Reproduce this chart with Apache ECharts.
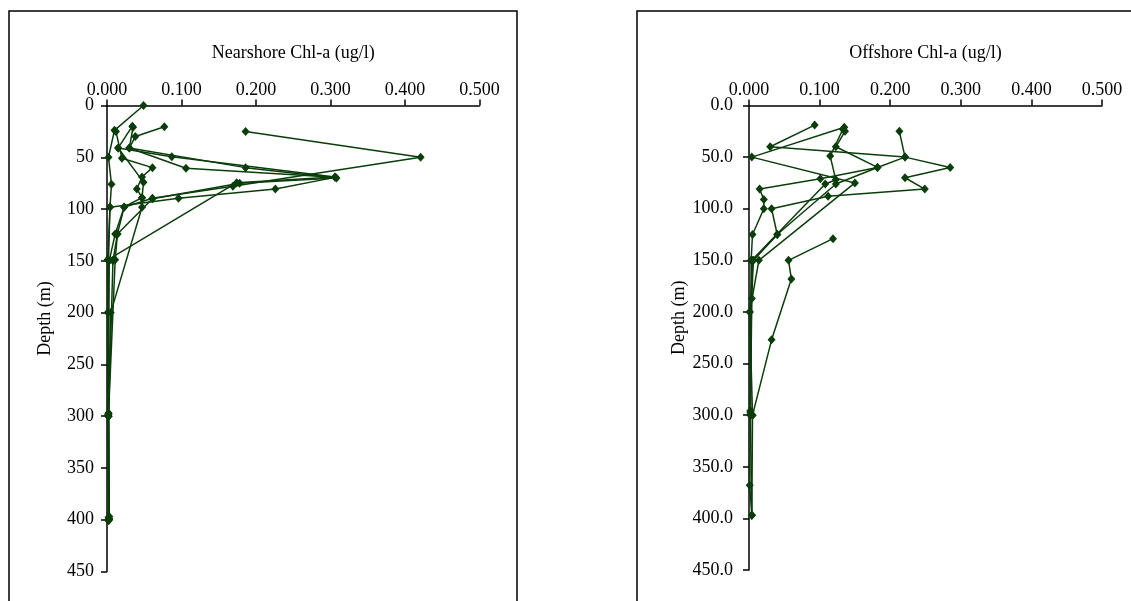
<!DOCTYPE html>
<html>
<head>
<meta charset="utf-8">
<script src="https://cdn.jsdelivr.net/npm/echarts@6/dist/echarts.min.js"></script>
<style>
html,body{margin:0;padding:0;background:#fff;}
#chart{width:1131px;height:601px;}
</style>
</head>
<body>
<div id="chart"></div>
<script>
// Tick labels
var xTickLabels = ['0.000','0.100','0.200','0.300','0.400','0.500'];
var depthTicks = [0,50,100,150,200,250,300,350,400,450];

// Nearshore profiles: [Chl-a (ug/l), depth (m)]
var near1 = [[0.049,0],[0.010,24],[0.002,50],[0.006,76],[0.004,98],[0.001,149],[0.001,200],[0.002,298],[0.002,398]];
var near2 = [[0.034,20],[0.015,41],[0.087,49.5],[0.306,69],[0.174,74.5],[0.001,149],[0.002,300],[0.003,400]];
var near3 = [[0.186,25],[0.421,50],[0.169,78],[0.061,89.6],[0.023,98.3],[0.011,124],[0.003,150],[0.002,297],[0.003,399]];
var near4 = [[0.077,20.5],[0.038,30],[0.030,41],[0.106,60.6],[0.306,69.4],[0.226,80.6],[0.096,89.6],[0.004,98.3],[0.002,150],[0.001,299],[0.002,400]];
var near5 = [[0.012,25],[0.020,51],[0.061,60],[0.047,69],[0.040,80.6],[0.047,89],[0.047,98.3],[0.005,200],[0.002,300],[0.003,397]];
var near6 = [[0.035,21],[0.030,41],[0.186,60],[0.308,70],[0.178,75],[0.061,90],[0.014,124],[0.011,149],[0.002,298],[0.002,401]];
var near7 = [[0.015,41],[0.049,74],[0.047,89],[0.023,98],[0.014,124],[0.008,150],[0.002,300]];

// Offshore profiles: [Chl-a (ug/l), depth (m)]
var off1 = [[0.093,19],[0.030,40],[0.221,50],[0.182,60],[0.123,76],[0.040,125],[0.006,150],[0.004,187],[0.002,296],[0.001,368],[0.004,397]];
var off2 = [[0.135,21],[0.004,50],[0.150,75],[0.014,150],[0.001,200],[0.005,300]];
var off3 = [[0.136,25],[0.123,40],[0.182,60],[0.101,71],[0.015,81],[0.021,91],[0.021,100],[0.005,125],[0.003,150],[0.002,296],[0.004,397]];
var off4 = [[0.213,25],[0.221,50],[0.285,60],[0.221,70],[0.249,81],[0.112,88],[0.032,100],[0.040,125],[0.006,150],[0.001,200],[0.002,300]];
var off5 = [[0.133,23],[0.115,49],[0.123,72],[0.108,76],[0.004,150],[0.002,298]];
var off6 = [[0.119,129],[0.056,150],[0.060,168],[0.032,227],[0.005,300],[0.004,397]];

var nearProfiles = [near1,near2,near3,near4,near5,near6,near7];
var offProfiles = [off1,off2,off3,off4,off5,off6];

var GREEN = '#0b3d0b';
var FONT = 'Liberation Serif';
var FS = 18;

function xAxisDef(idx, name) {
  return {
    gridIndex: idx, type: 'value', position: 'top', min: 0, max: 0.5, interval: 0.1,
    name: name, nameLocation: 'middle', nameGap: 43,
    nameTextStyle: {fontFamily: FONT, fontSize: FS, color: '#000'},
    axisLine: {show: true, onZero: false, lineStyle: {color: '#000', width: 1.5}},
    axisTick: {show: true, inside: false, length: 6, lineStyle: {color: '#000', width: 1.5}},
    axisLabel: {fontFamily: FONT, fontSize: FS, color: '#000', margin: 6,
      formatter: function (v) { return xTickLabels[Math.round(v * 10)]; }},
    splitLine: {show: false}
  };
}
function yAxisDef(idx, decimals, labelMargin, nameGap) {
  return {
    gridIndex: idx, type: 'value', inverse: true, min: 0, max: 450, interval: 50,
    name: 'Depth (m)', nameLocation: 'middle', nameGap: nameGap, nameRotate: 90,
    nameTextStyle: {fontFamily: FONT, fontSize: FS, color: '#000', padding: [0, 0, 0, 40]},
    axisLine: {show: true, onZero: false, lineStyle: {color: '#000', width: 1.5}},
    axisTick: {show: true, inside: false, length: 6, lineStyle: {color: '#000', width: 1.5}},
    axisLabel: {fontFamily: FONT, fontSize: FS, color: '#000', margin: labelMargin,
      formatter: function (v) { return decimals ? v.toFixed(decimals) : String(v); }},
    splitLine: {show: false}
  };
}

var series = [];
nearProfiles.forEach(function (p) {
  series.push({type: 'line', xAxisIndex: 0, yAxisIndex: 0, data: p, symbol: 'diamond', symbolSize: [8, 9],
    lineStyle: {color: GREEN, width: 1.5}, itemStyle: {color: GREEN}, animation: false, silent: true});
});
offProfiles.forEach(function (p) {
  series.push({type: 'line', xAxisIndex: 1, yAxisIndex: 1, data: p, symbol: 'diamond', symbolSize: [8, 9],
    lineStyle: {color: GREEN, width: 1.5}, itemStyle: {color: GREEN}, animation: false, silent: true});
});

var chart = echarts.init(document.getElementById('chart'), null, {renderer: 'canvas'});
chart.setOption({
  backgroundColor: '#fff',
  animation: false,
  grid: [
    {left: 107, top: 105.5, width: 372.5, height: 466},
    {left: 749, top: 105.5, width: 353, height: 464.5}
  ],
  xAxis: [xAxisDef(0, 'Nearshore Chl-a (ug/l)'), xAxisDef(1, 'Offshore Chl-a (ug/l)')],
  yAxis: [yAxisDef(0, 0, 13, 53), yAxisDef(1, 1, 16, 60)],
  graphic: [
    {type: 'rect', shape: {x: 9, y: 11, width: 508, height: 620}, style: {fill: 'none', stroke: '#000', lineWidth: 1.5}, silent: true, z: -1},
    {type: 'rect', shape: {x: 637, y: 11, width: 520, height: 620}, style: {fill: 'none', stroke: '#000', lineWidth: 1.5}, silent: true, z: -1}
  ],
  series: series
});
</script>
</body>
</html>
